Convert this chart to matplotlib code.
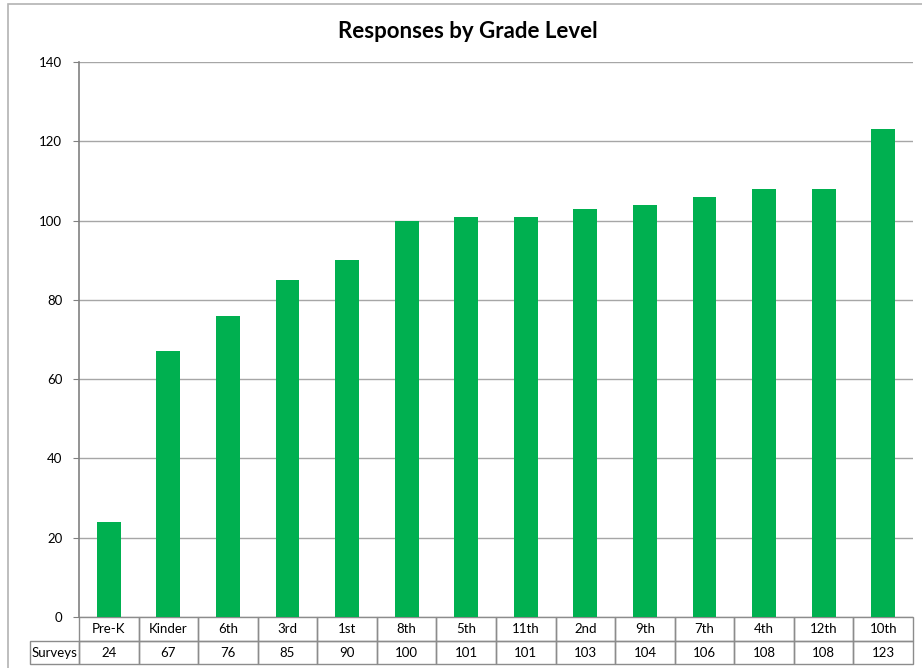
import matplotlib.pyplot as plt
from matplotlib.patches import Rectangle
import numpy as np

grades = ['Pre-K', 'Kinder', '6th', '3rd', '1st', '8th', '5th', '11th',
          '2nd', '9th', '7th', '4th', '12th', '10th']
surveys = [24, 67, 76, 85, 90, 100, 101, 101, 103, 104, 106, 108, 108, 123]
yticks = [0, 20, 40, 60, 80, 100, 120, 140]

plt.rcParams['font.family'] = ['Lato', 'DejaVu Sans']

W, H = 922, 668
fig = plt.figure(figsize=(W / 100, H / 100), dpi=100)

# chart area border (runs off right/bottom edge)
fig.patches.append(Rectangle((8 / W, -0.1), 1.2, 1 - 4 / H + 0.1,
                             transform=fig.transFigure, fill=False,
                             edgecolor='#b3b3b3', linewidth=1.2))

left, right, top, bottom = 79, 913, 62, 617
ax = fig.add_axes([left / W, 1 - bottom / H, (right - left) / W, (bottom - top) / H])

x = np.arange(len(grades))
ax.bar(x, surveys, width=0.4, color='#00b050', zorder=3)

ax.set_xlim(-0.5, len(grades) - 0.5)
ax.set_ylim(0, 140)
ax.set_yticks(yticks)
ax.tick_params(axis='y', labelsize=9.5, length=4, color='#808080', pad=8)
ax.set_xticks([])
ax.grid(axis='y', color='#a6a6a6', linewidth=1, zorder=0)
for s in ['top', 'right', 'bottom']:
    ax.spines[s].set_visible(False)
ax.spines['left'].set_color('#808080')
ax.spines['left'].set_linewidth(1.2)

# data table below the plot
rh = 24 / (bottom - top)
tr = ax.get_xaxis_transform()
lc = '#8c8c8c'
for i, (g, v) in enumerate(zip(grades, surveys)):
    ax.add_patch(Rectangle((i - 0.5, -rh), 1, rh, transform=tr, fill=False,
                           edgecolor=lc, linewidth=1, clip_on=False))
    ax.add_patch(Rectangle((i - 0.5, -2 * rh + 0.002), 1, rh - 0.002, transform=tr,
                           fill=False, edgecolor=lc, linewidth=1, clip_on=False))
    ax.text(i, -rh / 2, g, transform=tr, ha='center', va='center', fontsize=9.5)
    ax.text(i, -1.5 * rh, str(v), transform=tr, ha='center', va='center', fontsize=9.5)

hx0 = (30 - left) / (right - left)
ax.add_patch(Rectangle((hx0, -2 * rh + 0.002), -hx0, rh - 0.002, transform=ax.transAxes,
                       fill=False, edgecolor=lc, linewidth=1, clip_on=False))
ax.text(hx0 / 2, -1.5 * rh, 'Surveys', transform=ax.transAxes, ha='center',
        va='center', fontsize=9.5)

fig.text(468 / W, 1 - 31 / H, 'Responses by Grade Level', ha='center', va='center',
         fontsize=16, fontweight='bold')

fig.savefig('out.png', dpi=100)
